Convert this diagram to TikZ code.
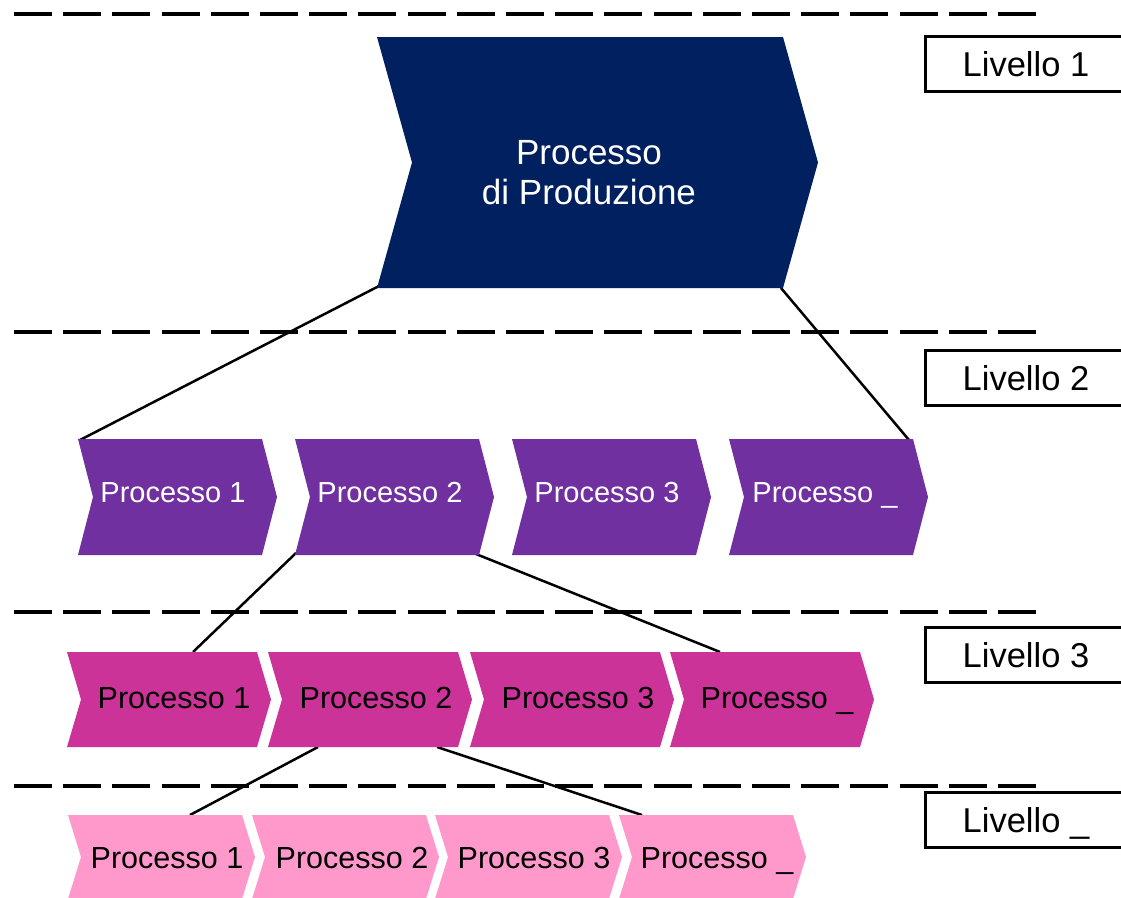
\documentclass[tikz,border=0pt]{standalone}
\usepackage{fontspec}
\setmainfont{Liberation Sans}
\definecolor{navyfill}{HTML}{002060}
\definecolor{purplefill}{HTML}{7030A0}
\definecolor{magentafill}{HTML}{CC3399}
\definecolor{pinkfill}{HTML}{FF99CC}
% chevron: #1 left x, #2 top y, #3 body width, #4 height, #5 tip depth, #6 fill colour
\newcommand\chevronpath[6]{%
  \fill[#6] (#1,#2) -- ++(#3,0) -- ++(#5,#4/2) -- ++(-#5,#4/2) -- ++(-#3,0)
    -- ++(#5,-#4/2) -- cycle;}
\begin{document}
\begin{tikzpicture}[x=1pt,y=-1pt,
  dashline/.style={line width=4.5pt,dash pattern=on 38pt off 11.2pt},
  connector/.style={line width=2.5pt,black},
  lvlbox/.style={draw=black,line width=3pt,fill=white},
  lvltext/.style={anchor=base,inner sep=0pt,font=\fontsize{34.5}{40}\selectfont},
  topname/.style={align=center,inner sep=0pt,text=white,font=\fontsize{35}{40}\selectfont},
  twotext/.style={anchor=base,inner sep=0pt,text=white,font=\fontsize{29}{34}\selectfont},
  threetext/.style={anchor=base,inner sep=0pt,text=black,font=\fontsize{30.5}{36}\selectfont},
  fourtext/.style={anchor=base,inner sep=0pt,text=black,font=\fontsize{30.5}{36}\selectfont}]
\clip (0,0) rectangle (1121,897);
\fill[white] (0,0) rectangle (1121,897);

% level separators
\draw[dashline] (14,14) -- (1040,14);
\draw[dashline] (14,332) -- (1040,332);
\draw[dashline] (14,612) -- (1040,612);
\draw[dashline] (14,786) -- (1040,786);

% connector end points
\coordinate (topbl) at (379,286);
\coordinate (topbr) at (781,288);
\coordinate (twoAtl) at (80,440);
\coordinate (twoDtr) at (909,440);
\coordinate (twoBbl) at (296,553);
\coordinate (twoBbr) at (476,554);
\coordinate (threeAtop) at (193,652);
\coordinate (threeDtop) at (720,652);
\coordinate (threeBbl) at (318,747);
\coordinate (threeBbr) at (437,747);
\coordinate (fourAtop) at (190,815);
\coordinate (fourDtop) at (642,815);

% connectors between levels
\draw[connector] (topbl) -- (twoAtl);
\draw[connector] (topbr) -- (twoDtr);
\draw[connector] (twoBbl) -- (threeAtop);
\draw[connector] (twoBbr) -- (threeDtop);
\draw[connector] (threeBbl) -- (fourAtop);
\draw[connector] (threeBbr) -- (fourDtop);

% level 1
\chevronpath{377}{37}{406}{251}{35}{navyfill}
\node[topname] (prod) at (589,172.5) {Processo\\di Produzione};

% level 2
\chevronpath{78}{439}{184}{116}{15}{purplefill}
\chevronpath{295}{439}{184}{116}{15}{purplefill}
\chevronpath{512}{439}{184}{116}{15}{purplefill}
\chevronpath{729}{439}{184}{116}{15}{purplefill}
\node[twotext] (twoA) at (173,502) {Processo 1};
\node[twotext] (twoB) at (390,502) {Processo 2};
\node[twotext] (twoC) at (607,502) {Processo 3};
\node[twotext] (twoD) at (825,502) {Processo \_};

% level 3
\chevronpath{67}{652}{190}{95}{14}{magentafill}
\chevronpath{268}{652}{190}{95}{14}{magentafill}
\chevronpath{470}{652}{190}{95}{14}{magentafill}
\chevronpath{670}{652}{190}{95}{14}{magentafill}
\node[threetext] (threeA) at (174,708) {Processo 1};
\node[threetext] (threeB) at (376,708) {Processo 2};
\node[threetext] (threeC) at (578,708) {Processo 3};
\node[threetext] (threeD) at (777,708) {Processo \_};

% level 4
\chevronpath{68}{815}{174}{84}{13}{pinkfill}
\chevronpath{252}{815}{174}{84}{13}{pinkfill}
\chevronpath{435}{815}{174}{84}{13}{pinkfill}
\chevronpath{619}{815}{174}{84}{13}{pinkfill}
\node[fourtext] (fourA) at (167,868) {Processo 1};
\node[fourtext] (fourB) at (352,868) {Processo 2};
\node[fourtext] (fourC) at (534,868) {Processo 3};
\node[fourtext] (fourD) at (717,868) {Processo \_};

% level labels
\draw[lvlbox] (925,36) rectangle (1135,91);
\draw[lvlbox] (925,350) rectangle (1135,405);
\draw[lvlbox] (925,627) rectangle (1135,682);
\draw[lvlbox] (925,792) rectangle (1135,847);
\node[lvltext] (lvA) at (1026,76) {Livello 1};
\node[lvltext] (lvB) at (1026,390) {Livello 2};
\node[lvltext] (lvC) at (1026,667) {Livello 3};
\node[lvltext] (lvD) at (1026,832) {Livello \_};
\end{tikzpicture}
\end{document}
